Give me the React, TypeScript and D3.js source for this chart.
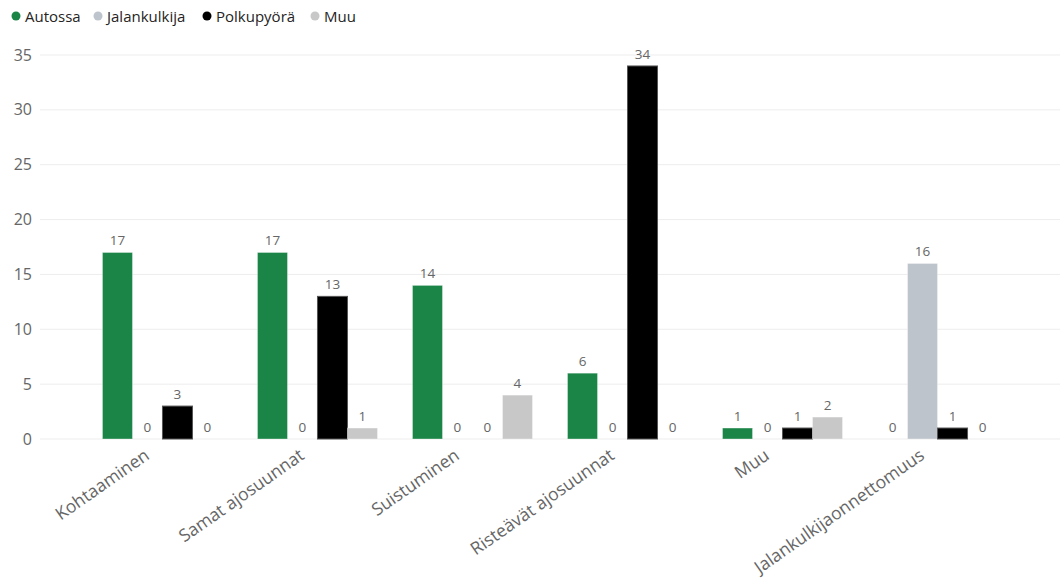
import React from "react";
import * as d3 from "d3";

const categories = ["Kohtaaminen", "Samat ajosuunnat", "Suistuminen", "Risteävät ajosuunnat", "Muu", "Jalankulkijaonnettomuus"];
const seriesNames = ["Autossa", "Jalankulkija", "Polkupyörä", "Muu"];
const autossa = [17, 17, 14, 6, 1, 0];
const jalankulkija = [0, 0, 0, 0, 0, 16];
const polkupyora = [3, 13, 0, 34, 1, 1];
const muu = [0, 1, 4, 0, 2, 0];
const yTicks = [0, 5, 10, 15, 20, 25, 30, 35];
const colors = ["#1B8548", "#BEC4CC", "#000000", "#C8C8C8"];

const W = 1062, H = 584;
const font = "'Open Sans', 'Noto Sans', sans-serif";

export default function App() {
  const series = [autossa, jalankulkija, polkupyora, muu];
  const y = d3.scaleLinear().domain([0, 35]).range([439, 55]);
  const x0 = d3.scaleBand<string>().domain(categories).range([40, 1060]).paddingInner(35 / 155).paddingOuter(0.403);
  const x1 = d3.scaleBand<string>().domain(seriesNames).range([0, x0.bandwidth()]);
  const legendX = [16, 98, 207, 315];
  return (
    <svg width={W} height={H} style={{ position: "absolute", left: 0, top: 0 }}>
      <rect width={W} height={H} fill="#fff" />
      {seriesNames.map((s, i) => (
        <g key={s}>
          <circle cx={legendX[i]} cy={16} r={4.5} fill={colors[i]} />
          <text x={legendX[i] + 9} y={21.5} fontFamily={font} fontSize={15} fill="#252423">{s}</text>
        </g>
      ))}
      {yTicks.map(t => (
        <g key={t}>
          <line x1={40} x2={1060} y1={y(t)} y2={y(t)} stroke="#EDEDED" strokeWidth={1} />
          <text x={32} y={y(t) + 5.5} textAnchor="end" fontFamily={font} fontSize={16} fill="#666">{t}</text>
        </g>
      ))}
      {categories.map((c, ci) => (
        <g key={c} transform={`translate(${x0(c)},0)`}>
          {seriesNames.map((s, si) => {
            const v = series[si][ci];
            const bx = x1(s)!;
            return (
              <g key={s}>
                {v > 0 && (
                  <rect x={bx} y={y(v)} width={x1.bandwidth()} height={y(0) - y(v)} fill={colors[si]}
                    stroke={si === 2 ? "#555" : "rgba(255,255,255,0.35)"} strokeWidth={1} />
                )}
                <text x={bx + x1.bandwidth() / 2} y={y(v) - 7} textAnchor="middle" fontFamily={font} fontSize={13.5} fill="#666">{v}</text>
              </g>
            );
          })}
        </g>
      ))}
      {categories.map(c => {
        const cx = x0(c)! + x0.bandwidth() / 2 - 12;
        return (
          <text key={c} transform={`translate(${cx},${458}) rotate(-35)`} textAnchor="end" fontFamily={font} fontSize={17.5} fill="#666">{c}</text>
        );
      })}
    </svg>
  );
}
